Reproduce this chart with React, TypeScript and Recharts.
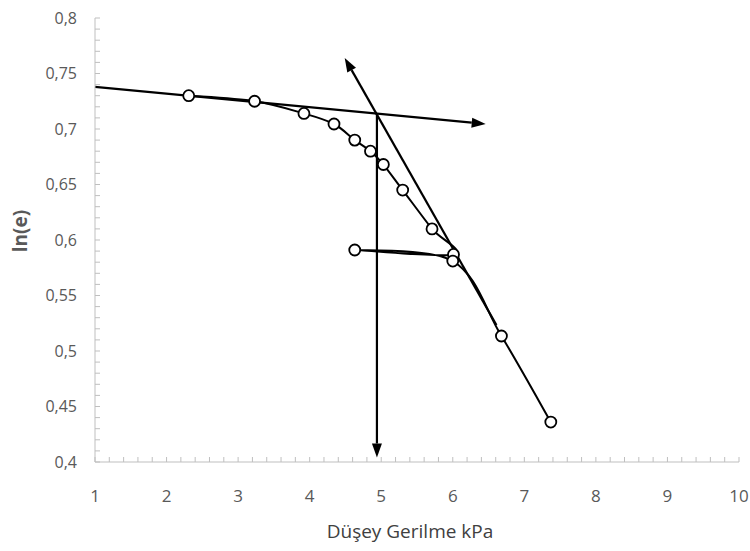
import React from 'react';
import { ComposedChart, Line, XAxis, YAxis, ReferenceLine } from 'recharts';

// ---- data ----
const stressX = [2.31, 3.23, 3.92, 4.34, 4.63, 4.85, 5.03, 5.3, 5.71, 6.01, 4.63, 6.0, 6.68, 7.37];
const lnE = [0.730, 0.725, 0.714, 0.7045, 0.690, 0.680, 0.668, 0.645, 0.610, 0.587, 0.591, 0.581, 0.5135, 0.436];

const tangentFlatX = [1, 6.46];
const tangentFlatY = [0.738, 0.7045];
const tangentSteepX = [6.61, 4.49];
const tangentSteepY = [0.5234, 0.764];
const verticalX = [4.94, 4.94];
const verticalY = [0.7135, 0.404];

const xMajorTicks = [1, 2, 3, 4, 5, 6, 7, 8, 9, 10];
const yMajorTicks = [0.4, 0.45, 0.5, 0.55, 0.6, 0.65, 0.7, 0.75, 0.8];

const xTitle = 'Düşey Gerilme kPa';
const yTitle = 'ln(e)';

// ---- helpers ----
const withMinor = (major: number[], parts: number) => {
  const out: number[] = [];
  for (let i = 0; i < major.length - 1; i++) {
    for (let k = 0; k < parts; k++) {
      out.push(Math.round((major[i] + ((major[i + 1] - major[i]) * k) / parts) * 10000) / 10000);
    }
  }
  out.push(major[major.length - 1]);
  return out;
};
const xTicks = withMinor(xMajorTicks, 5);
const yTicks = withMinor(yMajorTicks, 5);

const curveData = stressX.map((x, i) => ({ x, y: lnE[i] }));

const isMajor = (v: number, list: number[]) => list.some((m) => Math.abs(m - v) < 1e-6);
const fmt = (v: number) => String(v).replace('.', ',');

const AXIS = '#bfbfbf';
const TXT = '#595959';
const FONT = '"Open Sans", "Noto Sans", sans-serif';

// Excel-like smoothing (Catmull-Rom via cubic bezier)
function excelSmooth(context: any) {
  let pts: number[][] = [];
  return {
    areaStart() {},
    areaEnd() {},
    lineStart() {
      pts = [];
    },
    lineEnd() {
      const n = pts.length;
      if (!n) return;
      context.moveTo(pts[0][0], pts[0][1]);
      for (let i = 0; i < n - 1; i++) {
        const p0 = pts[i - 1] || pts[i];
        const p1 = pts[i];
        const p2 = pts[i + 1];
        const p3 = pts[i + 2] || p2;
        const c1x = p1[0] + (p2[0] - p0[0]) / 6;
        const c1y = p1[1] + (p2[1] - p0[1]) / 6;
        const c2x = p2[0] - (p3[0] - p1[0]) / 6;
        const c2y = p2[1] - (p3[1] - p1[1]) / 6;
        context.bezierCurveTo(c1x, c1y, c2x, c2y, p2[0], p2[1]);
      }
    },
    point(x: number, y: number) {
      pts.push([+x, +y]);
    },
  };
}

const XTick = (props: any) => {
  const { x, y, payload } = props;
  const v = payload.value;
  return (
    <g>
      <line x1={x} y1={y} x2={x} y2={y - 5} stroke={AXIS} strokeWidth={1} />
      {isMajor(v, xMajorTicks) && (
        <text x={x} y={y + 40} textAnchor="middle" fill={TXT} fontSize={17} fontFamily={FONT}>
          {fmt(v)}
        </text>
      )}
    </g>
  );
};

const YTick = (props: any) => {
  const { x, y, payload } = props;
  const v = payload.value;
  return (
    <g>
      <line x1={x} y1={y} x2={x + 5} y2={y} stroke={AXIS} strokeWidth={1} />
      {isMajor(v, yMajorTicks) && (
        <text x={77} y={y} dy="0.35em" textAnchor="end" fill={TXT} fontSize={16} fontFamily={FONT}>
          {fmt(v)}
        </text>
      )}
    </g>
  );
};

const Arrow = (props: any) => {
  const { x1, y1, x2, y2 } = props;
  const dx = x2 - x1;
  const dy = y2 - y1;
  const len = Math.sqrt(dx * dx + dy * dy) || 1;
  const ux = dx / len;
  const uy = dy / len;
  const L = 14;
  const W = 10;
  const bx = x2 - ux * L;
  const by = y2 - uy * L;
  const px = -uy * (W / 2);
  const py = ux * (W / 2);
  return (
    <g>
      <line x1={x1} y1={y1} x2={bx} y2={by} stroke="#000" strokeWidth={2.2} />
      <polygon points={`${x2},${y2} ${bx + px},${by + py} ${bx - px},${by - py}`} fill="#000" />
    </g>
  );
};

export default function App() {
  return (
    <div style={{ position: 'absolute', left: 0, top: 0, background: '#fff' }}>
      <ComposedChart
        width={750}
        height={551}
        margin={{ top: 18, right: 11, bottom: 59, left: 35 }}
      >
        <XAxis
          type="number"
          dataKey="x"
          domain={[1, 10]}
          ticks={xTicks}
          interval={0}
          tickSize={0}
          tickMargin={0}
          height={30}
          allowDataOverflow
          axisLine={{ stroke: AXIS, strokeWidth: 1 }}
          tickLine={false}
          tick={<XTick />}
          label={{
            content: () => (
              <text x={410} y={538} textAnchor="middle" fill="#404040" fontSize={19} fontFamily={FONT}>
                {xTitle}
              </text>
            ),
          }}
        />
        <YAxis
          type="number"
          dataKey="y"
          domain={[0.4, 0.8]}
          ticks={yTicks}
          interval={0}
          tickSize={0}
          tickMargin={0}
          width={60}
          allowDataOverflow
          axisLine={{ stroke: AXIS, strokeWidth: 1 }}
          tickLine={false}
          tick={<YTick />}
          label={{
            content: () => (
              <text
                x={27}
                y={231}
                textAnchor="middle"
                transform="rotate(-90 27 231)"
                fill={TXT}
                fontSize={19}
                fontWeight="bold"
                fontFamily={FONT}
              >
                {yTitle}
              </text>
            ),
          }}
        />
        <ReferenceLine
          segment={[
            { x: tangentFlatX[0], y: tangentFlatY[0] },
            { x: tangentFlatX[1], y: tangentFlatY[1] },
          ]}
          ifOverflow="visible"
          shape={(p: any) => <Arrow {...p} />}
        />
        <ReferenceLine
          segment={[
            { x: tangentSteepX[0], y: tangentSteepY[0] },
            { x: tangentSteepX[1], y: tangentSteepY[1] },
          ]}
          ifOverflow="visible"
          shape={(p: any) => <Arrow {...p} />}
        />
        <ReferenceLine
          segment={[
            { x: verticalX[0], y: verticalY[0] },
            { x: verticalX[1], y: verticalY[1] },
          ]}
          ifOverflow="visible"
          shape={(p: any) => <Arrow {...p} />}
        />
        <Line
          data={curveData}
          dataKey="y"
          type={excelSmooth as any}
          stroke="#000"
          strokeWidth={2}
          dot={{ r: 5.5, fill: '#fff', stroke: '#000', strokeWidth: 1.8 }}
          activeDot={false}
          isAnimationActive={false}
        />
      </ComposedChart>
    </div>
  );
}
